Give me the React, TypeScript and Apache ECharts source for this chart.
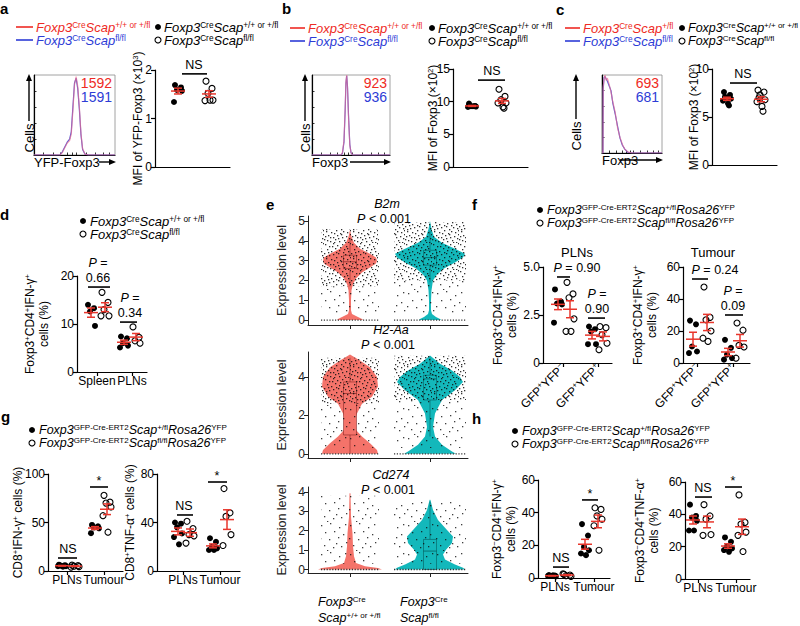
import React, { useEffect, useRef } from 'react';
import * as echarts from 'echarts';

const FF = '"Liberation Sans", Arial, Helvetica, sans-serif';

// ======================= DATA =======================
// legends / labels
const LEG_CTRL = '{i|Foxp3}{s|Cre}{i|Scap}{s|+/+ or +/fl}';
const LEG_CTRL_HET = '{i|Foxp3}{s|Cre}{i|Scap}{s|+/fl}';
const LEG_KO = '{i|Foxp3}{s|Cre}{i|Scap}{s|fl/fl}';
const LEG_GFP_CTRL = '{i|Foxp3}{s|GFP-Cre-ERT2}{i|Scap}{s|+/fl}{i|Rosa26}{s|YFP}';
const LEG_GFP_KO = '{i|Foxp3}{s|GFP-Cre-ERT2}{i|Scap}{s|fl/fl}{i|Rosa26}{s|YFP}';

// Panel a: flow histograms [x (% of axis), height (% of mode)]
const histA_ctrl = [[0,0],[32,0],[35,3],[38,9],[41,15],[44,18],[46,26],[48,55],[50,88],[52,98],[54,86],[56,60],[58,27],[60,8],[63,1],[67,0],[100,0]];
const histA_ko = [[0,0],[32,0],[35,4],[38,10],[41,16],[44,20],[46,29],[48,60],[50,90],[52,96],[54,83],[56,57],[58,25],[60,7],[63,1],[67,0],[100,0]];
const mfiA = ['1592', '1591'];
const xLabA = 'YFP-Foxp3';
const a_ctrl = [1.69, 1.64, 1.59, 1.57, 1.34];
const a_ko = [1.77, 1.62, 1.52, 1.38, 1.37, 1.38];
const ticksA = [0, 1, 2];
const yNameA = '{n|MFI of YFP-Foxp3 (×10}{s|3}{n|)}';
const sigA = ['NS'];

// Panel b
const histB_ctrl = [[0,0],[37,0],[39,3],[41,18],[42.5,58],[43.5,92],[44.5,100],[45.5,84],[47,42],[48.5,12],[50,3],[52,0],[100,0]];
const histB_ko = [[0,0],[37,0],[39,2],[41,16],[42.5,55],[43.5,90],[44.5,99],[45.5,86],[47,45],[48.5,13],[50,3],[52,0],[100,0]];
const mfiB = ['923', '936'];
const b_ctrl = [9.7, 9.35, 9.3, 9.25, 9.2, 9.3];
const b_ko = [11.9, 10.8, 10.3, 9.8, 9.8, 9.2, 9.0];
const ticksB = [0, 5, 10, 15];
const yNameBC = '{n|MFI of Foxp3 (×10}{s|2}{n|)}';
const sigB = ['NS'];

// Panel c
const histC_ctrl = [[0,0],[1.5,0],[2,85],[3.5,95],[5,100],[7,93],[9,96],[12,88],[15,78],[18,66],[22,52],[26,32],[30,20],[34,11],[38,5],[43,1.5],[50,0],[100,0]];
const histC_ko = [[0,0],[1.5,0],[2,82],[3.5,97],[5,98],[7,95],[9,92],[12,86],[15,80],[18,64],[22,50],[26,34],[30,19],[34,10],[38,5],[43,1],[50,0],[100,0]];
const mfiC = ['693', '681'];
const c_ctrl = [7.6, 7.3, 7.0, 6.9, 6.7, 6.4, 6.2, 7.1];
const c_ko = [7.8, 7.6, 7.3, 6.8, 6.6, 6.1, 5.6, 7.0];
const ticksC = [0, 5, 10];
const sigC = ['NS'];
const xLabBC = 'Foxp3';

// Panel d
const catsD = ['Spleen', 'PLNs'];
const d_spleen_ctrl = [14.0, 13.3, 12.6, 9.6];
const d_spleen_ko = [16.6, 14.5, 13.0, 11.7, 11.7];
const d_pln_ctrl = [7.4, 7.0, 6.0, 5.5, 5.1];
const d_pln_ko = [9.4, 7.2, 6.5, 6.0];
const ticksD = [0, 10, 20];
const yNameIFN = '{n|Foxp3}{s|+}{n|CD4}{s|+}{n|IFN-γ}{s|+}\n{n|cells (%)}';
const sigD = ['{i|P} =\n0.66', '{i|P} =\n0.34'];

// Panel e: violins  [expression level, half-width]
const vlnGenes = ['B2m', 'H2-Aa', 'Cd274'];
const vlnP = ['{i|P} < 0.001', '{i|P} < 0.001', '{i|P} < 0.001'];
const ticksE = [[0, 1, 2, 3, 4, 5], [0, 2, 4], [0, 1, 2, 3, 4]];
const b2m_ctrl = [[0,13],[0.05,12],[0.15,8],[0.3,2],[0.5,1],[1.0,1],[1.5,1.5],[1.8,3],[2.1,6],[2.4,12],[2.65,20],[2.85,26],[3.0,27],[3.15,26],[3.35,20],[3.6,10],[3.9,4],[4.2,1.5],[4.55,0]];
const b2m_ko = [[0,11],[0.05,10],[0.15,6],[0.3,2],[0.5,1],[1.0,1],[1.5,1.5],[2.0,3],[2.3,7],[2.6,14],[2.9,25],[3.15,33],[3.35,35],[3.6,25],[3.9,12],[4.2,4],[4.6,1.5],[5.0,0]];
const h2aa_ctrl = [[0,28],[0.2,27],[0.55,20],[0.9,12],[1.24,6],[1.76,5],[2.1,7],[2.6,12],[2.97,22],[3.5,28],[4.0,27],[4.5,20],[4.86,10],[5.17,0]];
const h2aa_ko = [[0,26],[0.12,22],[0.47,12],[0.9,5],[1.4,3],[2.1,5],[2.8,12],[3.31,25],[3.74,33],[4.0,30],[4.34,22],[4.69,10],[5.12,0]];
const cd274_ctrl = [[0,32],[0.08,28],[0.17,15],[0.34,6],[0.68,4],[1.19,3],[1.87,2.5],[2.72,1],[3.9,0.5],[3.95,0]];
const cd274_ko = [[0,35],[0.09,33],[0.26,25],[0.51,15],[0.77,13],[1.02,16],[1.36,22],[1.7,23],[2.04,17],[2.55,8],[3.06,3],[3.57,0.5],[3.6,0]];
// boxplots [q1, median, q3, lower whisker, upper whisker]
const box_b2m = [[2.6, 2.94, 3.27, 1.7, 4.1], [2.77, 3.15, 3.52, 1.9, 4.5]];
const box_h2aa = [[0.98, 3.14, 3.74, 0, 5.0], [2.8, 3.9, 4.09, 0.9, 5.0]];
const box_cd274 = [null, [0, 0.95, 1.55, 0, 3.5]];
// single-cell clouds [from, to, density]
const cloud_b2m = [[[0.35, 1.7, 's'], [1.7, 4.6, 'd']], [[0.35, 2.0, 's'], [2.0, 4.95, 'd']]];
const cloud_h2aa = [[[0.3, 2.6, 's'], [2.6, 5.0, 'd']], [[0.3, 2.8, 's'], [2.8, 5.1, 'd']]];
const cloud_cd274 = [[[0.3, 3.8, 's']], [[0.3, 3.5, 's']]];
const vlnGroupTop = ['{i|Foxp3}{s|Cre}', '{i|Foxp3}{s|Cre}'];
const vlnGroupBottom = ['{i|Scap}{s|+/+ or +/fl}', '{i|Scap}{s|fl/fl}'];

// Panel f
const catsF = ['{n|GFP}{s|+}{n|YFP}{s|−}', '{n|GFP}{s|+}{n|YFP}{s|+}'];
const titlesF = ['PLNs', 'Tumour'];
const f_pln_neg_ctrl = [3.83, 3.2, 3.1, 3.05, 2.1];
const f_pln_neg_ko = [4.2, 3.6, 3.4, 2.3, 1.65, 1.65];
const f_pln_pos_ctrl = [1.9, 1.76, 1.64, 0.98, 0.98];
const f_pln_pos_ko = [1.9, 1.84, 1.47, 1.03, 0.69];
const f_tum_neg_ctrl = [26.5, 24.2, 10.3, 7.2, 6.2];
const f_tum_neg_ko = [47.5, 28.5, 27, 20, 15.5, 13.5];
const f_tum_pos_ctrl = [14.5, 9.5, 5.2, 3.1, 2.1];
const f_tum_pos_ko = [25, 20.5, 11, 10, 3];
const ticksF1 = [0, 2.5, 5];
const ticksF2 = [0, 20, 40, 60];
const sigF1 = ['{i|P} = 0.90', '{i|P} =\n0.90'];
const sigF2 = ['{i|P} = 0.24', '{i|P} =\n0.09'];

// Panels g / h
const catsGH = ['PLNs', 'Tumour'];
const g_ifn_pln_ctrl = [6.5, 6, 5.5, 5, 5, 4.5];
const g_ifn_pln_ko = [6, 5.5, 5, 4.5, 4];
const g_ifn_tum_ctrl = [47.5, 46, 45, 44, 39];
const g_ifn_tum_ko = [78, 71, 70, 66, 57, 40];
const g_tnf_pln_ctrl = [40, 39, 36, 31, 28, 22];
const g_tnf_pln_ko = [41, 35, 30, 29, 23];
const g_tnf_tum_ctrl = [27, 24, 20, 18.7, 17.3, 17.3];
const g_tnf_tum_ko = [68, 48, 45, 30, 21];
const ticksG1 = [0, 50, 100];
const ticksG2 = [0, 40, 80];
const yNameG1 = '{n|CD8}{s|+}{n|IFN-γ}{s|+}{n| cells (%)}';
const yNameG2 = '{n|CD8}{s|+}{n|TNF-α}{s|+}{n| cells (%)}';
const sigG = ['NS', '*'];

const h_ifn_pln_ctrl = [1.8, 1.5, 1.2, 1.0, 1.3, 1.6];
const h_ifn_pln_ko = [2.2, 1.8, 1.4, 1.0, 2.6];
const h_ifn_tum_ctrl = [33, 26, 19, 17, 15, 14];
const h_ifn_tum_ko = [43, 42, 38, 36, 32, 17];
const h_tnf_pln_ctrl = [46, 39, 38, 36, 30, 30];
const h_tnf_pln_ko = [46, 39, 37, 27.5, 27];
const h_tnf_tum_ctrl = [25.7, 23, 20, 18.9, 17.9, 16.8];
const h_tnf_tum_ko = [52, 35, 34, 29, 27, 17];
const ticksH = [0, 20, 40, 60];
const yNameH1 = '{n|Foxp3}{s|−}{n|CD4}{s|+}{n|IFN-γ}{s|+}\n{n|cells (%)}';
const yNameH2 = '{n|Foxp3}{s|−}{n|CD4}{s|+}{n|TNF-α}{s|+}\n{n|cells (%)}';
const sigH = ['NS', '*'];

// ======================= STYLE / HELPERS =======================
const RED = '#e8362c';
const LEG_RED = '#ee2a24';
const LEG_BLUE = '#2d3cd6';
const VRED = '#f4736a';
const VTEAL = '#13b8bb';
const JIT = [-3, 3, -1, 4, -4, 1, 2, -2];
// texture tiles for the jittered single-cell cloud (pure texture, not data)
const TILE_DENSE = [[1,1],[5,3],[9,0],[13,2],[18,1],[22,3],[26,0],[3,6],[7,8],[11,5],[15,7],[20,6],[24,8],[0,10],[5,12],[9,11],[14,10],[17,13],[21,11],[25,12],[2,15],[7,16],[12,14],[16,17],[19,15],[23,16],[26,18],[1,20],[4,19],[9,21],[13,19],[18,21],[22,20],[25,22],[3,24],[6,25],[11,23],[15,25],[20,24],[24,26],[8,3],[16,4],[4,9],[12,9],[19,9],[10,17],[0,23],[14,22],[21,26],[6,21],[17,18],[23,5],[2,13],[10,26],[26,14]];
const TILE_SPARSE = [[2,3],[11,1],[20,5],[26,2],[6,10],[15,9],[24,12],[1,16],[10,17],[19,15],[27,20],[5,23],[14,25],[22,24],[8,28],[17,21]];

function rich(size: number, lh?: number) {
  const sup = Math.round(size * 0.64 * 10) / 10;
  const L = lh || size;
  return {
    i: { fontFamily: FF, fontSize: size, fontStyle: 'italic', lineHeight: L },
    n: { fontFamily: FF, fontSize: size, lineHeight: L },
    s: { fontFamily: FF, fontSize: sup, verticalAlign: 'top', lineHeight: Math.round(sup * 0.75) },
  };
}
const mean = (a: number[]) => a.reduce((s, v) => s + v, 0) / a.length;
const sem = (a: number[]) => {
  const m = mean(a);
  const sd = Math.sqrt(a.reduce((s, v) => s + (v - m) * (v - m), 0) / (a.length - 1));
  return sd / Math.sqrt(a.length);
};
const AX = { color: '#000', width: 1.2 };

function dotTile(size: number, pts: number[][], color: string) {
  const c = document.createElement('canvas');
  c.width = size; c.height = size;
  const ctx = c.getContext('2d')!;
  ctx.fillStyle = color;
  pts.forEach(([x, y]) => ctx.fillRect(x, y, 1.3, 1.3));
  return c;
}

type Grp = { v: number[]; x: number; filled: boolean };
type Sig = { t: string; x1: number; x2: number; y: number; tx: number; dy?: number; size?: number };
type DotP = {
  left: number; top: number; width: number; height: number;
  ticks: number[]; fmt?: (v: number) => string; yName: string; nameGap: number;
  cats?: { x: number; label: string }[]; rotate?: number;
  groups: Grp[]; sigs: Sig[];
};

function addDotPanel(o: any, p: DotP) {
  const gi = o.grid.length;
  o.grid.push({ left: p.left, top: p.top, width: p.width, height: p.height, outerBoundsMode: 'none', containLabel: false });
  const cx = p.cats ? p.cats.map((c) => c.x) : [];
  o.xAxis.push({
    gridIndex: gi, type: 'value', min: 0, max: p.width,
    axisLine: { show: true, onZero: false, lineStyle: AX },
    axisTick: p.cats ? { show: true, customValues: cx, length: 4, lineStyle: AX } : { show: false },
    axisLabel: p.cats ? {
      show: true, customValues: cx, color: '#000', fontSize: 12, fontFamily: FF, margin: 3,
      showMinLabel: true, showMaxLabel: true, hideOverlap: false,
      rotate: p.rotate || 0, rich: rich(12, 14),
      formatter: (val: number) => {
        let best = p.cats![0];
        p.cats!.forEach((c) => { if (Math.abs(c.x - val) < Math.abs(best.x - val)) best = c; });
        return best.label;
      },
    } : { show: false },
    splitLine: { show: false },
  });
  o.yAxis.push({
    gridIndex: gi, type: 'value', min: p.ticks[0], max: p.ticks[p.ticks.length - 1],
    axisLine: { show: true, onZero: false, lineStyle: AX },
    axisTick: { show: true, customValues: p.ticks, length: 4, lineStyle: AX },
    axisLabel: { show: true, customValues: p.ticks, showMinLabel: true, showMaxLabel: true, color: '#000', fontSize: 12, fontFamily: FF, margin: 3, formatter: p.fmt || ((v: number) => String(v)) },
    splitLine: { show: false },
    name: p.yName, nameLocation: 'middle', nameRotate: 90, nameGap: p.nameGap, nameMoveOverlap: false,
    nameTextStyle: { color: '#000', fontSize: 12, fontFamily: FF, lineHeight: 14, rich: rich(12, 14) },
  });
  p.groups.forEach((g) => {
    o.series.push({
      type: 'scatter', xAxisIndex: gi, yAxisIndex: gi, symbol: 'circle', symbolSize: 6, silent: true, z: 3,
      data: g.v.map((val, i) => [g.x + JIT[i % JIT.length], val]),
      itemStyle: g.filled
        ? { color: '#000', borderWidth: 0, opacity: 1 }
        : { color: 'rgba(255,255,255,0)', borderColor: '#000', borderWidth: 1.1, opacity: 1 },
    });
  });
  o.series.push({
    type: 'custom', xAxisIndex: gi, yAxisIndex: gi, silent: true, z: 6, clip: false,
    data: p.groups.map((g) => [g.x, mean(g.v), sem(g.v)]),
    renderItem: (_params: any, api: any) => {
      const x = api.value(0), m = api.value(1), s = api.value(2);
      const pm = api.coord([x, m]);
      const pt = api.coord([x, m + s]);
      const pb = api.coord([x, m - s]);
      const st = { stroke: RED, lineWidth: 1.5 };
      const L = (x1: number, y1: number, x2: number, y2: number) => ({ type: 'line', shape: { x1, y1, x2, y2 }, style: st });
      return {
        type: 'group',
        children: [
          L(pm[0] - 7, pm[1], pm[0] + 7, pm[1]),
          L(pm[0], pt[1], pm[0], pb[1]),
          L(pm[0] - 4, pt[1], pm[0] + 4, pt[1]),
          L(pm[0] - 4, pb[1], pm[0] + 4, pb[1]),
        ],
      };
    },
  });
  if (p.sigs.length) {
    o.series.push({
      type: 'custom', xAxisIndex: gi, yAxisIndex: gi, silent: true, z: 7, clip: false,
      data: p.sigs.map((s) => [s.x1, s.y]),
      renderItem: (params: any, api: any) => {
        const s = p.sigs[params.dataIndex];
        const a = api.coord([s.x1, s.y]);
        const b = api.coord([s.x2, s.y]);
        const t = api.coord([s.tx, s.y]);
        const size = s.size || 12.5;
        return {
          type: 'group',
          children: [
            { type: 'line', shape: { x1: a[0], y1: a[1], x2: b[0], y2: b[1] }, style: { stroke: '#000', lineWidth: 1.6 } },
            {
              type: 'text', x: t[0], y: t[1] - (s.dy == null ? 1 : s.dy),
              style: { text: s.t, rich: rich(size, size + 3), fontFamily: FF, fontSize: size, fill: '#000', align: 'center', verticalAlign: 'bottom', lineHeight: size + 3 },
            },
          ],
        };
      },
    });
  }
}

function addHist(o: any, g: { left: number; top: number; width: number; height: number }, ctrl: number[][], ko: number[][]) {
  const gi = o.grid.length;
  o.grid.push({ left: g.left, top: g.top, width: g.width, height: g.height, show: true, borderColor: '#8a8a8a', borderWidth: 0.8, backgroundColor: 'rgba(0,0,0,0)', outerBoundsMode: 'none' });
  o.xAxis.push({
    gridIndex: gi, type: 'value', min: 0, max: 100,
    axisLine: { show: true, onZero: false, lineStyle: AX },
    axisTick: { show: true, inside: true, length: 2.5, customValues: [12, 24, 33, 41, 47, 52, 64, 76, 85, 93], lineStyle: { color: '#000', width: 0.8 } },
    axisLabel: { show: false }, splitLine: { show: false },
  });
  o.yAxis.push({
    gridIndex: gi, type: 'value', min: 0, max: 100,
    axisLine: { show: true, onZero: false, lineStyle: AX },
    axisTick: { show: true, inside: true, length: 2.5, customValues: [20, 40, 60, 80], lineStyle: { color: '#000', width: 0.8 } },
    axisLabel: { show: false }, splitLine: { show: false },
  });
  o.series.push({ type: 'line', xAxisIndex: gi, yAxisIndex: gi, data: ko, symbol: 'none', silent: true, z: 2, lineStyle: { color: '#5a5fd8', width: 1.2 } });
  o.series.push({ type: 'line', xAxisIndex: gi, yAxisIndex: gi, data: ctrl, symbol: 'none', silent: true, z: 3, lineStyle: { color: '#ee6a8a', width: 1.2, opacity: 0.65 } });
}

type Vln = { center: number; band: number; color: string; edge: string; profile: number[][]; box: number[] | null; cloud: any[] };

function addViolin(o: any, g: { left: number; top: number; width: number; height: number }, yMin: number, yMax: number, ticks: number[], vlns: Vln[], pats: any) {
  const gi = o.grid.length;
  o.grid.push({ left: g.left, top: g.top, width: g.width, height: g.height, outerBoundsMode: 'none' });
  const AXE = { color: '#222', width: 1 };
  o.xAxis.push({
    gridIndex: gi, type: 'value', min: 0, max: g.width,
    axisLine: { show: true, onZero: false, lineStyle: AXE },
    axisTick: { show: true, customValues: vlns.map((v) => v.center), length: 4, lineStyle: AXE },
    axisLabel: { show: false }, splitLine: { show: false },
  });
  o.yAxis.push({
    gridIndex: gi, type: 'value', min: yMin, max: yMax,
    axisLine: { show: true, onZero: false, lineStyle: AXE },
    axisTick: { show: true, customValues: ticks, length: 4, lineStyle: AXE },
    axisLabel: { show: true, customValues: ticks, showMinLabel: true, showMaxLabel: true, color: '#222', fontSize: 12, fontFamily: FF, margin: 3 },
    splitLine: { show: false },
    name: 'Expression level', nameLocation: 'middle', nameRotate: 90, nameGap: 20, nameMoveOverlap: false,
    nameTextStyle: { color: '#222', fontSize: 12.5, fontFamily: FF },
  });
  o.series.push({
    type: 'custom', xAxisIndex: gi, yAxisIndex: gi, silent: true, z: 3, clip: false,
    data: vlns.map((v) => [v.center, 0]),
    renderItem: (params: any, api: any) => {
      const v = vlns[params.dataIndex];
      const c = v.center;
      const right = v.profile.map(([y, hw]) => api.coord([c + hw, y]));
      const left = v.profile.slice().reverse().map(([y, hw]) => api.coord([c - hw, y]));
      const ch: any[] = [];
      ch.push({ type: 'polygon', shape: { points: right.concat(left) }, style: { fill: v.color } });
      if (v.box) {
        const [q1, med, q3, lo, hi] = v.box;
        const bw = 6.5;
        const a = api.coord([c - bw, q3]);
        const b = api.coord([c + bw, q1]);
        const wl = api.coord([c, lo]);
        const wh = api.coord([c, hi]);
        const m1 = api.coord([c - bw, med]);
        const m2 = api.coord([c + bw, med]);
        const es = { stroke: v.edge, lineWidth: 0.8 };
        ch.push({ type: 'line', shape: { x1: wl[0], y1: wl[1], x2: wl[0], y2: b[1] }, style: es });
        ch.push({ type: 'line', shape: { x1: wh[0], y1: wh[1], x2: wh[0], y2: a[1] }, style: es });
        ch.push({ type: 'rect', shape: { x: a[0], y: a[1], width: b[0] - a[0], height: b[1] - a[1] }, style: { fill: v.color, stroke: v.edge, lineWidth: 0.8 } });
        ch.push({ type: 'line', shape: { x1: m1[0], y1: m1[1], x2: m2[0], y2: m2[1] }, style: { stroke: v.edge, lineWidth: 1 } });
      }
      v.cloud.forEach(([y0, y1, kind]: any) => {
        const a = api.coord([c - v.band, y1]);
        const b = api.coord([c + v.band, y0]);
        ch.push({ type: 'rect', shape: { x: a[0], y: a[1], width: b[0] - a[0], height: b[1] - a[1] }, style: { fill: kind === 'd' ? pats.dense : pats.sparse } });
      });
      const z0 = api.coord([c - v.band, 0]);
      const z1 = api.coord([c + v.band, 0]);
      ch.push({ type: 'line', shape: { x1: z0[0], y1: z0[1], x2: z1[0], y2: z1[1] }, style: { stroke: '#333', lineWidth: 1.3, lineDash: [1.2, 1.6] } });
      return { type: 'group', children: ch };
    },
  });
}

// graphic helpers
function T(x: number, y: number, text: string, opt: any = {}) {
  const size = opt.size || 12;
  return {
    type: 'text', x, y, rotation: opt.rot || 0, silent: true, z: 20,
    style: {
      text, fill: opt.color || '#000', fontFamily: FF, fontSize: size,
      fontWeight: opt.bold ? 'bold' : 'normal', fontStyle: opt.italic ? 'italic' : 'normal',
      align: opt.align || 'left', verticalAlign: opt.va || 'middle', rich: opt.rich || rich(size),
    },
  };
}
const GL = (x1: number, y1: number, x2: number, y2: number, color = '#000', w = 1.4) => ({ type: 'line', silent: true, z: 20, shape: { x1, y1, x2, y2 }, style: { stroke: color, lineWidth: w } });
const DOT = (x: number, y: number, filled: boolean) => ({ type: 'circle', silent: true, z: 20, shape: { cx: x, cy: y, r: 3 }, style: filled ? { fill: '#000' } : { fill: '#fff', stroke: '#000', lineWidth: 1.1 } });
const TRI = (pts: number[][]) => ({ type: 'polygon', silent: true, z: 20, shape: { points: pts }, style: { fill: '#000' } });

function histDecor(g: any[], box: { left: number; right: number; top: number; bottom: number }, cellsX: number, xLab: string, xLabEnd: number, nums: string[]) {
  g.push(GL(cellsX, box.bottom - 34, cellsX, box.top + 5));
  g.push(TRI([[cellsX, box.top - 1], [cellsX - 3, box.top + 6], [cellsX + 3, box.top + 6]]));
  g.push(T(cellsX, box.bottom - 17, 'Cells', { size: 13, rot: Math.PI / 2, align: 'center' }));
  g.push(T(box.left, box.bottom + 7, xLab, { size: 13 }));
  g.push(GL(xLabEnd, box.bottom + 7, box.right - 4, box.bottom + 7));
  g.push(TRI([[box.right + 1, box.bottom + 7], [box.right - 6, box.bottom + 4], [box.right - 6, box.bottom + 10]]));
  g.push(T(box.right - 3, box.top + 8, nums[0], { size: 14, color: LEG_RED, align: 'right' }));
  g.push(T(box.right - 3, box.top + 22, nums[1], { size: 14, color: LEG_BLUE, align: 'right' }));
}

function buildOption() {
  const pats = {
    dense: { image: dotTile(27, TILE_DENSE, 'rgba(15,15,15,0.85)'), repeat: 'repeat', imageWidth: 27, imageHeight: 27 },
    sparse: { image: dotTile(29, TILE_SPARSE, 'rgba(15,15,15,0.8)'), repeat: 'repeat', imageWidth: 29, imageHeight: 29 },
  };
  const o: any = { animation: false, textStyle: { fontFamily: FF }, grid: [], xAxis: [], yAxis: [], series: [], graphic: [] };
  const g: any[] = [];

  // ---------- a ----------
  addHist(o, { left: 34, top: 75, width: 81, height: 80 }, histA_ctrl, histA_ko);
  histDecor(g, { left: 34, right: 115, top: 75, bottom: 155 }, 29, xLabA, 99, mfiA);
  addDotPanel(o, {
    left: 155, top: 70, width: 75, height: 97, ticks: ticksA, yName: yNameA, nameGap: 10,
    groups: [{ v: a_ctrl, x: 23, filled: true }, { v: a_ko, x: 54, filled: false }],
    sigs: [{ t: sigA[0], x1: 27, x2: 52, y: 1.92, tx: 39 }],
  });
  // ---------- b ----------
  addHist(o, { left: 312, top: 75, width: 78, height: 80 }, histB_ctrl, histB_ko);
  histDecor(g, { left: 312, right: 390, top: 75, bottom: 155 }, 305, xLabBC, 350, mfiB);
  addDotPanel(o, {
    left: 453, top: 69, width: 75, height: 98, ticks: ticksB, yName: yNameBC, nameGap: 13,
    groups: [{ v: b_ctrl, x: 19, filled: true }, { v: b_ko, x: 49, filled: false }],
    sigs: [{ t: sigB[0], x1: 25, x2: 52, y: 13.3, tx: 39 }],
  });
  // ---------- c ----------
  addHist(o, { left: 602, top: 75, width: 60, height: 78 }, histC_ctrl, histC_ko);
  histDecor(g, { left: 602, right: 662, top: 75, bottom: 153 }, 576, xLabBC, 620, mfiC);
  addDotPanel(o, {
    left: 712, top: 69, width: 65, height: 96, ticks: ticksC, yName: yNameBC, nameGap: 11,
    groups: [{ v: c_ctrl, x: 15, filled: true }, { v: c_ko, x: 49, filled: false }],
    sigs: [{ t: sigC[0], x1: 18, x2: 45, y: 8.54, tx: 31 }],
  });
  // ---------- d ----------
  addDotPanel(o, {
    left: 77, top: 276, width: 70, height: 96, ticks: ticksD, yName: yNameIFN, nameGap: 26,
    cats: [{ x: 20, label: catsD[0] }, { x: 55, label: catsD[1] }],
    groups: [
      { v: d_spleen_ctrl, x: 14, filled: true }, { v: d_spleen_ko, x: 28, filled: false },
      { v: d_pln_ctrl, x: 47, filled: true }, { v: d_pln_ko, x: 59, filled: false },
    ],
    sigs: [{ t: sigD[0], x1: 11, x2: 33, y: 17.7, tx: 21 }, { t: sigD[1], x1: 43, x2: 60, y: 10.4, tx: 53 }],
  });
  // ---------- e ----------
  const mk = (c: number, band: number, color: string, edge: string, profile: number[][], box: any, cloud: any[]): Vln => ({ center: c, band, color, edge, profile, box, cloud });
  const RE = 'rgba(110,20,20,0.6)', TE = 'rgba(0,70,70,0.6)';
  addViolin(o, { left: 308, top: 216, width: 160, height: 109 }, -0.25, 5.25, ticksE[0], [
    mk(42, 29, VRED, RE, b2m_ctrl, box_b2m[0], cloud_b2m[0]),
    mk(122, 36, VTEAL, TE, b2m_ko, box_b2m[1], cloud_b2m[1]),
  ], pats);
  addViolin(o, { left: 308, top: 352, width: 160, height: 106 }, -0.22, 5.3, ticksE[1], [
    mk(42, 29, VRED, RE, h2aa_ctrl, box_h2aa[0], cloud_h2aa[0]),
    mk(122, 36, VTEAL, TE, h2aa_ko, box_h2aa[1], cloud_h2aa[1]),
  ], pats);
  addViolin(o, { left: 308, top: 487, width: 160, height: 86 }, -0.18, 4.25, ticksE[2], [
    mk(42, 29, VRED, RE, cd274_ctrl, box_cd274[0], cloud_cd274[0]),
    mk(122, 36, VTEAL, TE, cd274_ko, box_cd274[1], cloud_cd274[1]),
  ], pats);
  // ---------- f ----------
  const fmtF = (v: number) => (v === 0 ? '0' : v.toFixed(1));
  addDotPanel(o, {
    left: 543, top: 267, width: 69, height: 96, ticks: ticksF1, fmt: fmtF, yName: yNameIFN, nameGap: 24,
    cats: [{ x: 20, label: catsF[0] }, { x: 55, label: catsF[1] }], rotate: 45,
    groups: [
      { v: f_pln_neg_ctrl, x: 15, filled: true }, { v: f_pln_neg_ko, x: 27, filled: false },
      { v: f_pln_pos_ctrl, x: 49, filled: true }, { v: f_pln_pos_ko, x: 60, filled: false },
    ],
    sigs: [{ t: sigF1[0], x1: 14, x2: 27, y: 4.48, tx: 34 }, { t: sigF1[1], x1: 45, x2: 62, y: 2.34, tx: 54 }],
  });
  addDotPanel(o, {
    left: 683, top: 267, width: 67, height: 96, ticks: ticksF2, yName: yNameIFN, nameGap: 24,
    cats: [{ x: 14, label: catsF[0] }, { x: 50, label: catsF[1] }], rotate: 45,
    groups: [
      { v: f_tum_neg_ctrl, x: 10, filled: true }, { v: f_tum_neg_ko, x: 24, filled: false },
      { v: f_tum_pos_ctrl, x: 45, filled: true }, { v: f_tum_pos_ko, x: 57, filled: false },
    ],
    sigs: [{ t: sigF2[0], x1: 9, x2: 25, y: 52.5, tx: 32 }, { t: sigF2[1], x1: 42, x2: 60, y: 30, tx: 50 }],
  });
  // ---------- g ----------
  addDotPanel(o, {
    left: 48, top: 474, width: 75, height: 97, ticks: ticksG1, yName: yNameG1, nameGap: 23,
    cats: [{ x: 19, label: catsGH[0] }, { x: 56, label: catsGH[1] }],
    groups: [
      { v: g_ifn_pln_ctrl, x: 14, filled: true }, { v: g_ifn_pln_ko, x: 27, filled: false },
      { v: g_ifn_tum_ctrl, x: 47, filled: true }, { v: g_ifn_tum_ko, x: 59, filled: false },
    ],
    sigs: [{ t: sigG[0], x1: 10, x2: 29, y: 13.4, tx: 20 }, { t: sigG[1], x1: 42, x2: 60, y: 86.6, tx: 51, dy: -2 }],
  });
  addDotPanel(o, {
    left: 157, top: 474, width: 83, height: 97, ticks: ticksG2, yName: yNameG2, nameGap: 20,
    cats: [{ x: 26, label: catsGH[0] }, { x: 63, label: catsGH[1] }],
    groups: [
      { v: g_tnf_pln_ctrl, x: 21, filled: true }, { v: g_tnf_pln_ko, x: 33, filled: false },
      { v: g_tnf_tum_ctrl, x: 56, filled: true }, { v: g_tnf_tum_ko, x: 70, filled: false },
    ],
    sigs: [{ t: sigG[0], x1: 20, x2: 36, y: 46.2, tx: 27 }, { t: sigG[1], x1: 51, x2: 70, y: 73.4, tx: 60, dy: -2 }],
  });
  // ---------- h ----------
  addDotPanel(o, {
    left: 538, top: 480, width: 72, height: 98, ticks: ticksH, yName: yNameH1, nameGap: 20,
    cats: [{ x: 17, label: catsGH[0] }, { x: 56, label: catsGH[1] }],
    groups: [
      { v: h_ifn_pln_ctrl, x: 14, filled: true }, { v: h_ifn_pln_ko, x: 29, filled: false },
      { v: h_ifn_tum_ctrl, x: 47, filled: true }, { v: h_ifn_tum_ko, x: 60, filled: false },
    ],
    sigs: [{ t: sigH[0], x1: 15, x2: 31, y: 6.7, tx: 23 }, { t: sigH[1], x1: 44, x2: 60, y: 47.8, tx: 52, dy: -2 }],
  });
  addDotPanel(o, {
    left: 685, top: 482, width: 65, height: 97, ticks: ticksH, yName: yNameH2, nameGap: 24,
    cats: [{ x: 13, label: catsGH[0] }, { x: 51, label: catsGH[1] }],
    groups: [
      { v: h_tnf_pln_ctrl, x: 8, filled: true }, { v: h_tnf_pln_ko, x: 22, filled: false },
      { v: h_tnf_tum_ctrl, x: 43, filled: true }, { v: h_tnf_tum_ko, x: 57, filled: false },
    ],
    sigs: [{ t: sigH[0], x1: 10, x2: 27, y: 50.7, tx: 18 }, { t: sigH[1], x1: 40, x2: 57, y: 56.9, tx: 48, dy: -2 }],
  });

  // ---------- texts: panel letters ----------
  const letters: [string, number, number][] = [['a', 0, 8], ['b', 282, 8], ['c', 556, 9], ['d', 0, 214], ['e', 266, 204], ['f', 472, 204], ['g', 1, 416], ['h', 472, 418]];
  letters.forEach(([l, x, y]) => g.push(T(x, y, l, { size: 15, bold: true })));

  // legends a, b, c
  const legABC: [number, number, number, number, string, number][] = [[16, 36, 158, 27, LEG_CTRL, 13], [290, 308, 432, 28, LEG_CTRL, 13], [565, 583, 682, 28, LEG_CTRL_HET, 12.5]];
  legABC.forEach(([lx, tx, dx, y, ctrl, bs]) => {
    g.push(GL(lx, y, tx - 3, y, LEG_RED, 1.6));
    g.push(T(tx, y, ctrl, { size: 13, color: LEG_RED, rich: rich(13) }));
    g.push(GL(lx, y + 13, tx - 3, y + 13, LEG_BLUE, 1.6));
    g.push(T(tx, y + 13, LEG_KO, { size: 13, color: LEG_BLUE, rich: rich(13) }));
    g.push(DOT(dx, y, true));
    g.push(T(dx + 6, y, LEG_CTRL, { size: bs, rich: rich(bs) }));
    g.push(DOT(dx, y + 13, false));
    g.push(T(dx + 6, y + 13, LEG_KO, { size: bs, rich: rich(bs) }));
  });
  // legend d
  g.push(DOT(83, 221, true)); g.push(T(90, 221, LEG_CTRL, { size: 13, rich: rich(13) }));
  g.push(DOT(83, 234, false)); g.push(T(90, 234, LEG_KO, { size: 13, rich: rich(13) }));
  // legends f, g, h
  const legGFP: [number, number][] = [[540, 210], [32, 430], [515, 431]];
  legGFP.forEach(([x, y]) => {
    g.push(DOT(x, y, true)); g.push(T(x + 7, y, LEG_GFP_CTRL, { size: 12.5, rich: rich(12.5) }));
    g.push(DOT(x, y + 13, false)); g.push(T(x + 7, y + 13, LEG_GFP_KO, { size: 12.5, rich: rich(12.5) }));
  });
  // e titles
  const eTitles: [number, number][] = [[387, 204], [391, 330], [391, 475]];
  eTitles.forEach(([x, y], i) => {
    g.push(T(x, y, vlnGenes[i], { size: 12.5, italic: true, align: 'center' }));
    g.push(T(x - 3, y + 15, vlnP[i], { size: 12.5, align: 'center', rich: rich(12.5) }));
  });
  [318, 400].forEach((x, i) => {
    g.push(T(x, 602, vlnGroupTop[i], { size: 12.5, rich: rich(12.5) }));
    g.push(T(x, 618, vlnGroupBottom[i], { size: 12.5, rich: rich(12.5) }));
  });
  // f titles
  g.push(T(577, 252, titlesF[0], { size: 13, align: 'center' }));
  g.push(T(713, 252, titlesF[1], { size: 13, align: 'center' }));

  o.graphic = { elements: g };
  return o;
}

export default function App() {
  const ref = useRef<HTMLDivElement>(null);
  useEffect(() => {
    if (!ref.current) return;
    const chart = echarts.init(ref.current, undefined, { renderer: 'svg' });
    chart.setOption(buildOption());
    return () => chart.dispose();
  }, []);
  return <div ref={ref} style={{ position: 'absolute', left: 0, top: 0, width: 800, height: 626, background: '#fff' }} />;
}
